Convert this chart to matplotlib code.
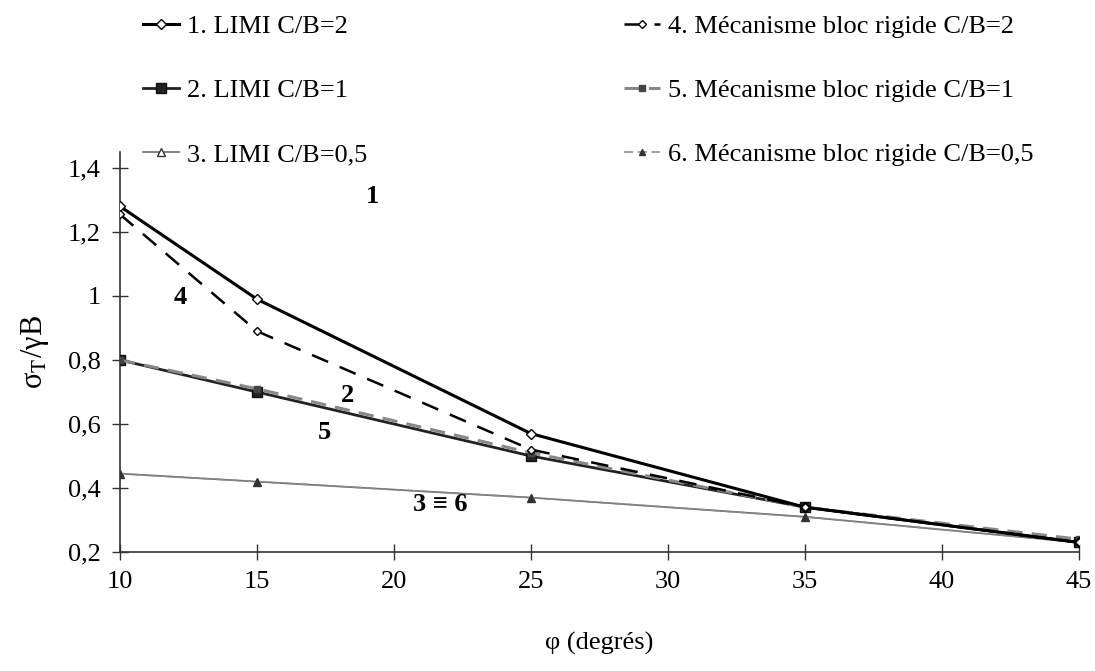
import matplotlib
matplotlib.use("Agg")
import matplotlib.pyplot as plt

plt.rcParams['font.family'] = ['Liberation Serif', 'DejaVu Serif']
plt.rcParams['mathtext.fontset'] = 'stix'

phi = [10, 15, 25, 35, 45]
limi_cb2 = [1.28, 0.99, 0.57, 0.34, 0.23]
limi_cb1 = [0.80, 0.70, 0.50, 0.34, 0.23]
limi_cb05 = [0.445, 0.42, 0.37, 0.31, 0.23]
bloc_cb2 = [1.255, 0.89, 0.52, 0.34, 0.23]
bloc_cb1 = [0.80, 0.71, 0.51, 0.34, 0.24]
bloc_cb05 = [0.445, 0.42, 0.37, 0.31, 0.23]

labels = ["1. LIMI C/B=2", "2. LIMI C/B=1", "3. LIMI C/B=0,5",
          "4. Mécanisme bloc rigide C/B=2", "5. Mécanisme bloc rigide C/B=1",
          "6. Mécanisme bloc rigide C/B=0,5"]
yticks = [0.2, 0.4, 0.6, 0.8, 1.0, 1.2, 1.4]
yticklabels = ["0,2", "0,4", "0,6", "0,8", "1", "1,2", "1,4"]
xticks = [10, 15, 20, 25, 30, 35, 40, 45]

fig = plt.figure(figsize=(10.95, 6.71), dpi=100)
ax = fig.add_axes([0.1096, 0.1773, 0.8758, 0.5962])

h3, = ax.plot(phi, limi_cb05, color='#777777', lw=1.3, marker='^', ms=6,
              mfc='white', mec='#333333', zorder=3)
h6, = ax.plot(phi, bloc_cb05, color='#888888', lw=1.1, ls=(0, (6, 3)), marker='^', ms=5,
              mfc='#333333', mec='#333333', zorder=3)
h2, = ax.plot(phi, limi_cb1, color='#222222', lw=2.0, marker='s', ms=7,
              mfc='#222222', mec='#111111', zorder=4)
h5, = ax.plot(phi, bloc_cb1, color='#888888', lw=2.2, ls=(0, (5, 3)), marker='s', ms=5,
              mfc='#444444', mec='#444444', zorder=4)
h1, = ax.plot(phi, limi_cb2, color='black', lw=2.2, marker='D', ms=5,
              mfc='white', mec='black', zorder=5)
h4, = ax.plot(phi, bloc_cb2, color='black', lw=1.8, ls=(0, (7, 5)), marker='D', ms=4,
              mfc='white', mec='black', zorder=5)

ax.set_xlim(10, 45)
ax.set_ylim(0.2, 1.45)
ax.set_xticks(xticks)
ax.set_xticklabels([str(x) for x in xticks])
ax.set_yticks(yticks)
ax.set_yticklabels(yticklabels)
for s in ['top', 'right']:
    ax.spines[s].set_visible(False)
for s in ['left', 'bottom']:
    ax.spines[s].set_color('#333333')
    ax.spines[s].set_linewidth(1.2)
ax.tick_params(direction='inout', length=12, width=1.0, labelsize=19, colors='#333333',
               labelcolor='black', pad=8)

ax.set_xlabel("φ (degrés)", fontsize=19, labelpad=28)
ax.set_ylabel("σ$_{\\mathrm{T}}$/γB", fontsize=22, labelpad=12)

bold = dict(fontsize=19, fontweight='bold', ha='center', va='center')
ax.text(19.2, 1.31, "1", **bold)
ax.text(12.2, 0.995, "4", **bold)
ax.text(18.3, 0.69, "2", **bold)
ax.text(17.45, 0.575, "5", **bold)
ax.text(21.7, 0.347, "3 ≡ 6", **bold)

common = dict(loc='upper left', frameon=False, fontsize=19, handlelength=1.35,
              handletextpad=0.3, labelspacing=1.54, borderaxespad=0, borderpad=0)
leg1 = fig.legend([h1, h2, h3], labels[:3], bbox_to_anchor=(0.131, 0.978), **common)
leg2 = fig.legend([h4, h5, h6], labels[3:], bbox_to_anchor=(0.570, 0.978), **common)

fig.savefig("out.png", dpi=100)
